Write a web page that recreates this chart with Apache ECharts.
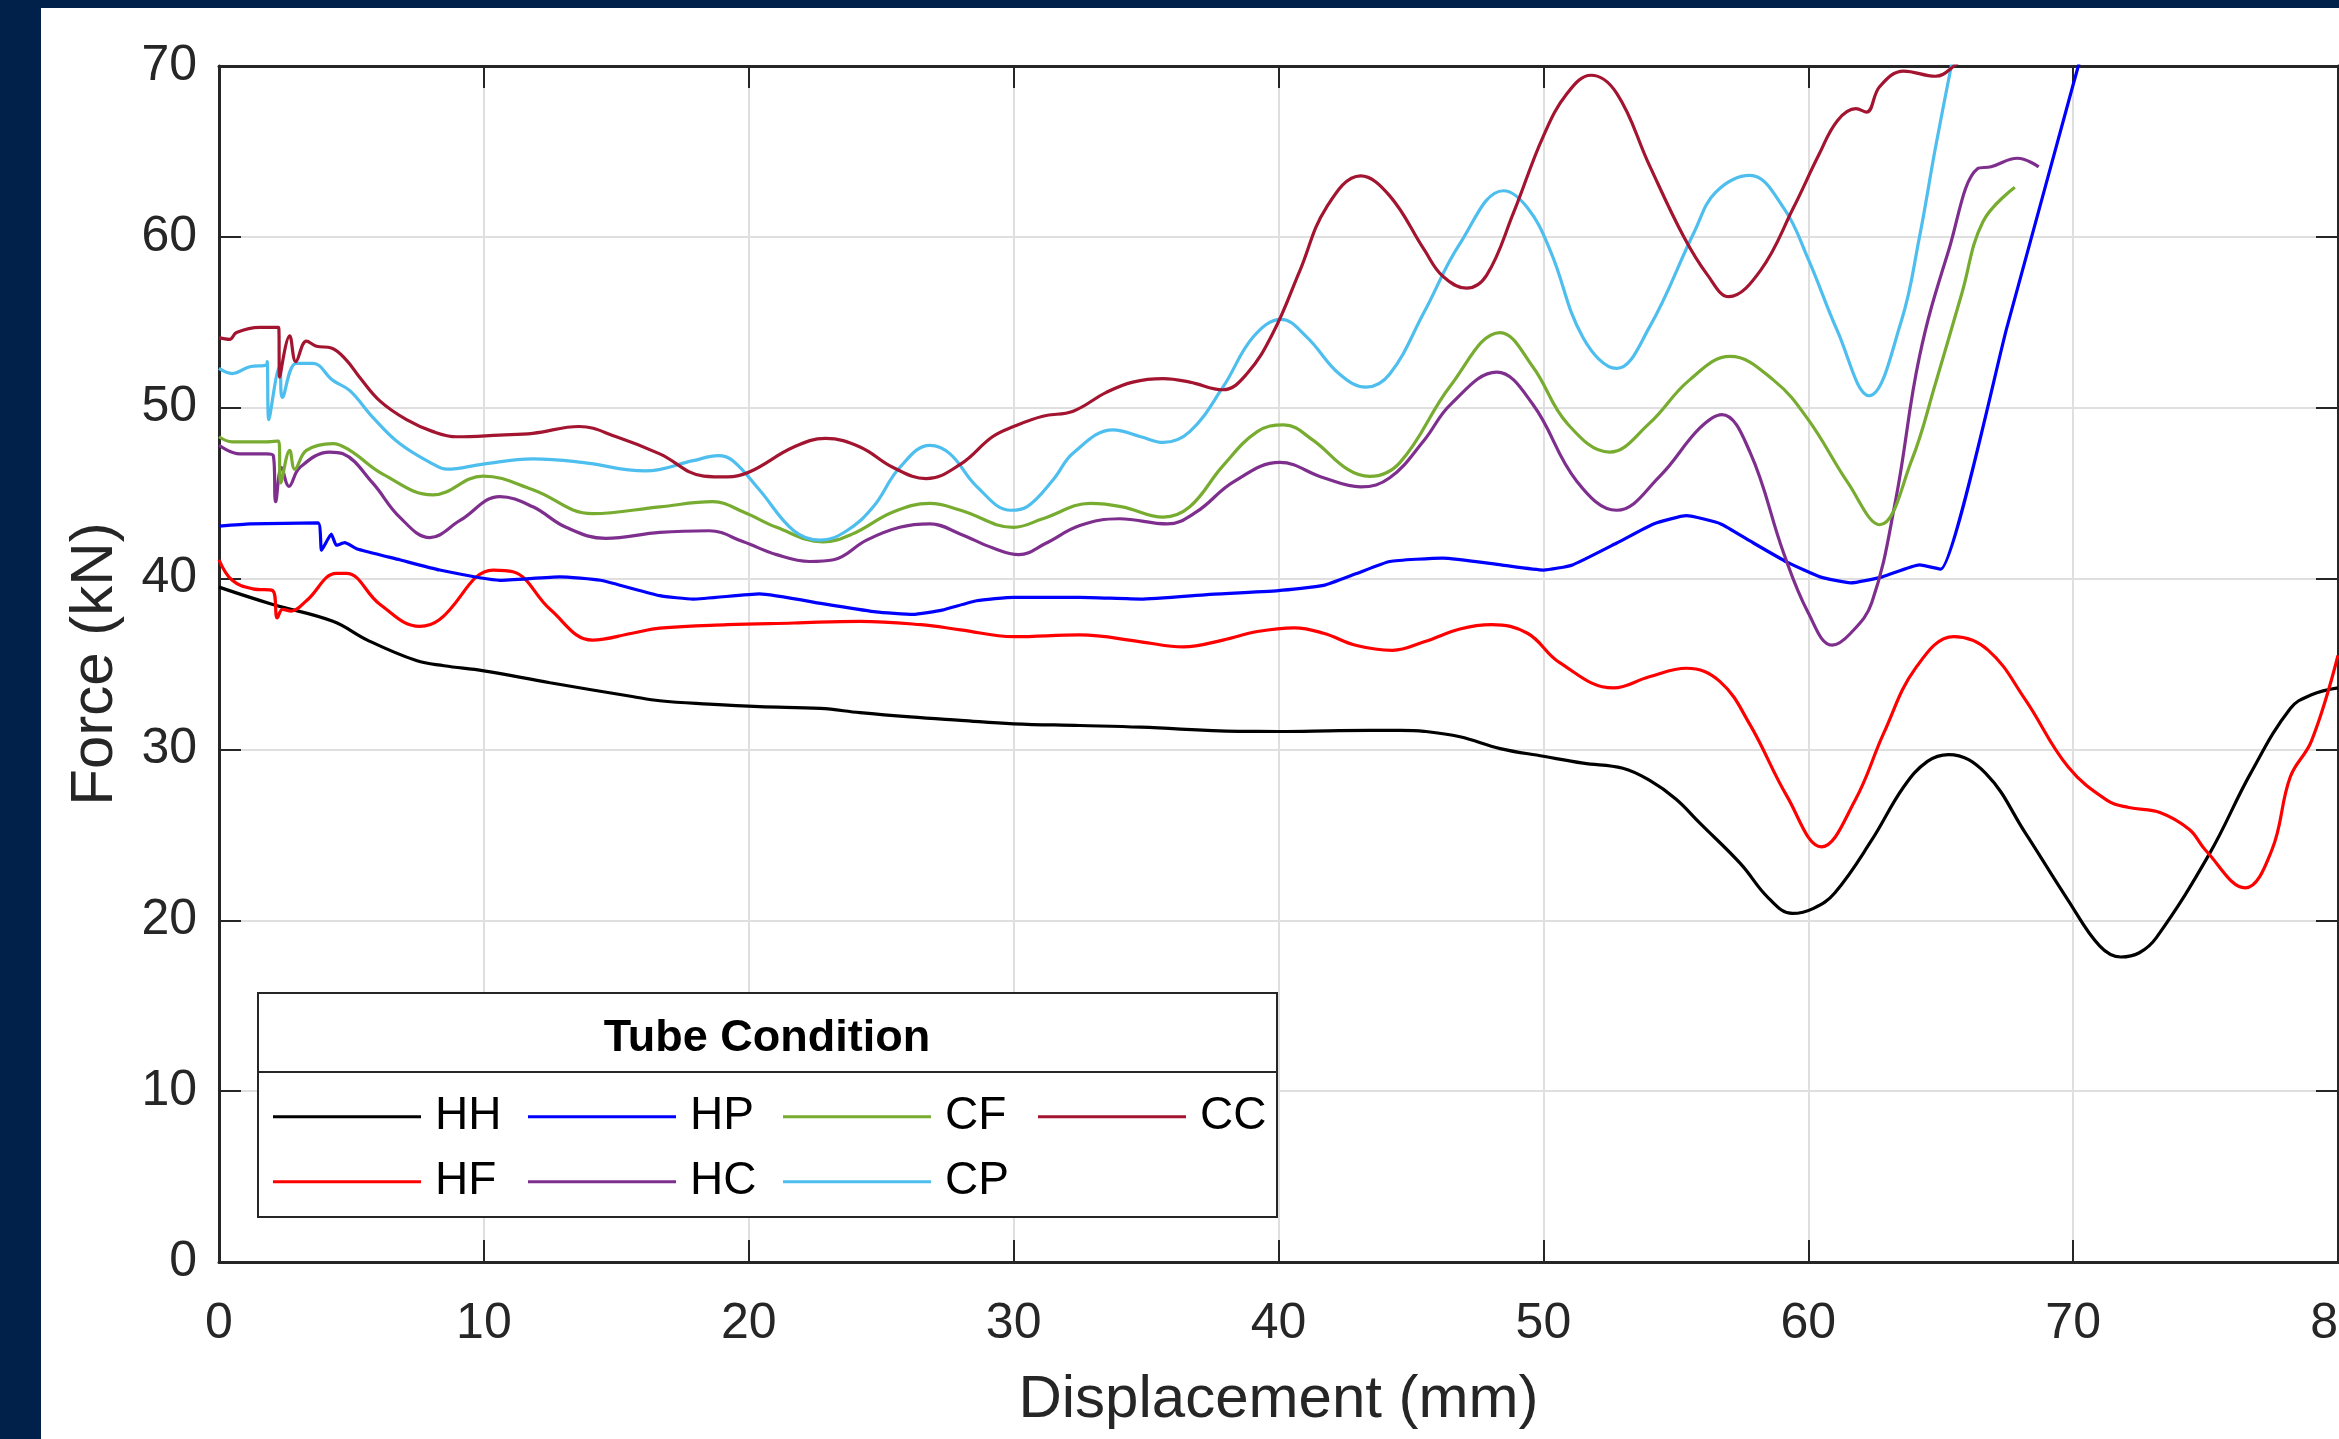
<!DOCTYPE html>
<title>tube condition force</title>
<style>
body {margin: 0; background: #01204a;}
#echart {position: absolute; left: 41px; top: 8px; width: 2298px; height: 1431px; background: #fff;}
</style>
<div id='echart'></div>
<script src='https://cdn.jsdelivr.net/npm/echarts@6.0.0/dist/echarts.min.js'></script>
<script>
// force (kN) vs displacement (mm), one array per tube condition
let hh = [[0,39.5],[2,38.5],[4.3,37.5],[5.6,36.4],[7.45,35.2],[8.5,34.9],[10,34.6],[12.5,33.9],[15.6,33.1],[16.64,32.85],[18.5,32.65],[20.4,32.5],[22.7,32.4],[24.2,32.15],[26.1,31.9],[28,31.7],[30,31.5],[32.5,31.4],[34.8,31.3],[38.5,31.06],[40,31.05],[42.3,31.1],[44.6,31.12],[45.5,31.06],[46.85,30.74],[48.37,30.05],[50,29.6],[51.5,29.2],[53,28.9],[54,28.2],[55,27.1],[55.9,25.7],[57.45,23.3],[58.5,21.3],[59.4,20.4],[60.2,20.7],[61,21.6],[62.4,24.7],[63.6,27.8],[64.5,29.3],[65.3,29.7],[66.7,28.6],[68.2,25.1],[69.8,21.2],[71,18.5],[71.8,17.85],[72.5,18.1],[73.15,19.0],[75.15,23.9],[76.7,28.6],[78.2,32.4],[79,33.2],[80,33.6]]
let hf = [[0,41.1],[0.5,39.9],[1.28,39.4],[2.02,39.3],[2.2,37.7],[2.4,38.2],[2.73,38.1],[3.3,38.7],[4.43,40.3],[4.81,40.3],[6.07,38.5],[7.58,37.2],[8.33,37.6],[10.35,40.5],[11.1,40.4],[12.5,38.2],[14.1,36.4],[15.6,36.8],[16.64,37.1],[19.2,37.3],[21.7,37.4],[24.2,37.5],[26.5,37.3],[28,37.0],[30,36.6],[32.5,36.7],[34.8,36.3],[36.4,36.0],[37.9,36.4],[39.2,36.9],[40.6,37.12],[41.7,36.8],[42.95,36.08],[44.3,35.8],[45.5,36.3],[46.85,37.05],[48.05,37.3],[49.4,36.8],[50.6,35.1],[52.65,33.6],[54,34.25],[55.4,34.75],[56.67,33.97],[57.8,31.45],[59.2,27.25],[60.5,24.3],[61.76,27.0],[62.85,30.95],[64.07,34.8],[65.5,36.6],[66.8,35.8],[68.2,32.9],[69.8,29.0],[71.3,27.0],[72.1,26.6],[73.3,26.3],[74.4,25.3],[75,24.1],[76.5,21.9],[77.5,24.1],[78.2,28.4],[79,30.5],[80,35.5]]
let hp = [[0,43.07],[1.16,43.2],[3.74,43.26],[3.87,41.66],[4.24,42.6],[4.43,41.95],[4.75,42.1],[5.19,41.75],[6.82,41.1],[8.33,40.5],[10.6,39.9],[12.87,40.1],[14.4,39.9],[16.64,39.0],[17.9,38.8],[20.4,39.1],[22.9,38.5],[24.8,38.05],[26.2,37.9],[27.3,38.15],[28.6,38.7],[30,38.9],[32.5,38.9],[34.8,38.8],[37.3,39.06],[40,39.3],[41.7,39.6],[42.95,40.3],[44.2,41.0],[46.2,41.2],[48.4,40.8],[50,40.5],[51.1,40.8],[52.77,42.08],[54.16,43.2],[55.4,43.68],[56.7,43.2],[57.8,42.2],[59.2,40.96],[60.45,40.1],[61.6,39.75],[62.8,40.1],[64.2,40.8],[65.0,40.55],[67.5,54.7],[70.0,68.9],[70.5,71.7]]
let hc = [[0,47.8],[0.78,47.3],[1.79,47.3],[2.05,47.2],[2.14,44.5],[2.36,46.5],[2.64,45.4],[3.05,46.5],[4.18,47.4],[4.68,47.3],[5.8,45.6],[6.82,43.6],[7.96,42.4],[9.1,43.4],[10.6,44.8],[11.85,44.2],[13.1,43.0],[14.6,42.35],[16.64,42.7],[18.5,42.8],[19.8,42.15],[21.05,41.4],[22.3,41.0],[23.2,41.1],[24.45,42.25],[25.7,43.0],[26.84,43.2],[28,42.6],[29.2,41.8],[30.2,41.4],[31.2,42.05],[32.5,43.1],[34,43.5],[35.8,43.2],[36.9,43.9],[38.3,45.66],[40.05,46.8],[41.7,45.9],[43.1,45.37],[44.2,45.9],[45.5,48.1],[46.5,50.2],[48.24,52.08],[49.6,50.2],[51.26,45.7],[52.77,44.0],[54.4,46.0],[55.9,48.8],[56.74,49.6],[57.8,47.4],[59.07,41.5],[60.0,38.0],[60.9,36.1],[61.6,36.8],[62.4,38.6],[63.3,44.6],[64.2,53.0],[65.3,59.2],[66.4,64.0],[66.9,64.1],[67.9,64.6],[68.7,64.1]]
let cf = [[0,48.3],[0.5,48.0],[1.79,48.0],[2.25,48.05],[2.33,45.6],[2.67,47.5],[2.86,46.4],[3.3,47.5],[4.3,47.9],[4.94,47.5],[6.2,46.1],[8.07,44.9],[9.97,46.0],[11.85,45.2],[14.1,43.8],[16.64,44.2],[18.65,44.5],[19.8,43.9],[21.05,43.0],[22.8,42.15],[23.9,42.6],[25.45,43.9],[26.84,44.4],[28,44.0],[30,43.0],[31.1,43.5],[32.9,44.4],[34.1,44.2],[35.65,43.6],[36.65,44.2],[37.9,46.6],[39.2,48.6],[40.2,49.0],[41.3,48.1],[42.6,46.4],[43.45,45.98],[44.59,46.8],[46.5,51.3],[48.37,54.4],[49.6,52.4],[50.9,49.08],[52.5,47.4],[54,49.08],[55.5,51.6],[57.05,53.0],[58.7,51.6],[60,49.3],[61.5,45.6],[62.7,43.15],[63.9,46.9],[64.8,51.4],[65.8,56.7],[66.6,60.9],[67.8,62.9]]
let cp = [[0,52.3],[0.5,52.0],[1.16,52.4],[1.79,52.5],[1.82,52.7],[1.88,49.3],[2.29,52.4],[2.39,50.6],[2.92,52.6],[3.54,52.6],[4.3,51.6],[4.94,51.0],[5.8,49.45],[6.82,47.9],[8.08,46.7],[8.6,46.4],[9.97,46.7],[11.85,47.0],[13.7,46.8],[16.1,46.3],[17.9,46.9],[18.85,47.2],[19.4,46.9],[20.4,45.2],[21.7,42.8],[22.7,42.25],[23.7,42.8],[24.7,44.2],[25.7,46.5],[26.84,47.8],[27.6,47.3],[28.6,45.4],[29.9,44.0],[30.5,44.2],[31.5,45.8],[32.25,47.35],[33.76,48.7],[34.8,48.3],[35.65,47.97],[36.65,48.6],[37.9,51.2],[39.05,54.15],[40.1,55.17],[41.06,54.15],[42.3,51.97],[43.3,51.2],[44.2,51.97],[45.5,55.6],[46.85,59.6],[48.5,62.7],[49.4,61.7],[50.26,59.2],[51.5,54.1],[52.77,52.3],[54,54.7],[55.7,60.3],[56.5,62.6],[57.8,63.6],[59.07,61.7],[60,58.7],[61.1,54.5],[62.3,50.7],[63.5,55.0],[64.2,60.0],[64.8,65.2],[65.4,70],[65.6,71.6]]
let cc = [[0,54.1],[0.4,54.0],[0.66,54.4],[1.54,54.7],[2.25,54.7],[2.29,51.8],[2.67,54.2],[2.9,52.7],[3.3,53.9],[3.68,53.6],[4.24,53.5],[4.8,52.8],[5.3,51.8],[6.07,50.4],[7.08,49.3],[8.08,48.6],[8.97,48.3],[10.6,48.4],[11.85,48.5],[13.6,48.9],[15,48.3],[16.64,47.3],[18.3,46.0],[19.2,45.95],[20.04,46.25],[21.7,47.7],[22.9,48.2],[24.2,47.7],[25.45,46.5],[26.7,45.85],[28,46.7],[29.2,48.3],[30,48.9],[31.1,49.5],[32.25,49.8],[33.5,50.9],[34.5,51.5],[35.65,51.7],[36.65,51.5],[37.9,51.05],[38.8,51.97],[39.8,54.4],[40.8,58.0],[41.8,61.7],[43.1,63.57],[44.2,62.4],[45.5,59.25],[46.2,57.7],[47.1,57.0],[47.86,57.76],[48.87,61.4],[50,65.9],[50.9,68.4],[51.8,69.46],[52.77,68.4],[54,64.2],[55.3,60.0],[56.2,57.76],[57,56.5],[58.2,58.04],[59.44,61.7],[60.4,64.8],[61.1,66.8],[61.8,67.5],[62.2,67.3],[62.7,68.8],[63.6,69.7],[64.8,69.4],[65.5,70.0],[66,70.8]]

let names = ['HH', 'HF', 'HP', 'HC', 'CF', 'CP', 'CC']
let colors = ['#000000', '#ff0000', '#0000ff', '#7e2f8e', '#77ac30', '#4dbeee', '#a2142f']
let curves = [hh, hf, hp, hc, cf, cp, cc]
// HP ends in a straight ramp, so it gets less smoothing
let smoothing = [0.4, 0.4, 0.15, 0.4, 0.4, 0.4, 0.4]
let legend_rows = [['HH', 'HP', 'CF', 'CC'], ['HF', 'HC', 'CP']]

let font = "'Liberation Sans', Arial, sans-serif"
let ink = '#262626'

let frame = {
	type: 'value',
	axisLine: {show: true, onZero: false, lineStyle: {color: ink, width: 3}},
	axisTick: {show: true, inside: true, length: 22, lineStyle: {color: ink, width: 2}},
	splitLine: {show: false},
}
let label = {fontSize: 50, color: ink, fontFamily: font}
let grid_line = {show: true, lineStyle: {color: '#dfdfdf', width: 2}}
let name_style = {fontSize: 60, color: ink, fontFamily: font}

let echart = echarts.init(document.querySelector('#echart'))
let option = {
	animation: false,
	textStyle: {fontFamily: font},
	grid: {left: 178, right: 1, top: 58, bottom: 177, containLabel: false, outerBoundsMode: 'none'},
	xAxis: [
		{...frame, min: 0, max: 80, interval: 10, position: 'bottom', axisLabel: {...label, margin: 19}, splitLine: grid_line,
			name: 'Displacement (mm)', nameLocation: 'middle', nameGap: 87, nameMoveOverlap: false, nameTextStyle: name_style},
		{...frame, min: 0, max: 80, interval: 10, position: 'top', axisLabel: {show: false}},
	],
	yAxis: [
		{...frame, min: 0, max: 70, interval: 10, position: 'left', axisLabel: {...label, margin: 22}, splitLine: grid_line,
			name: 'Force (kN)', nameLocation: 'middle', nameGap: 72, nameMoveOverlap: false, nameTextStyle: name_style},
		{...frame, min: 0, max: 70, interval: 10, position: 'right', axisLabel: {show: false}},
	],
	series: curves.map((data, i) => ({
		type: 'line', name: names[i], data: data, symbol: 'none', smooth: smoothing[i],
		lineStyle: {width: 3.2, color: colors[i]}, itemStyle: {color: colors[i]}, z: 2,
	})),
	legend: legend_rows.map((row, r) => ({
		data: row, left: 232, top: 1069 + r * 65, padding: 0, z: 200, orient: 'horizontal',
		icon: 'rect', itemWidth: 148, itemHeight: 3, itemGap: 15,
		textStyle: {fontSize: 46, color: '#000', width: 78, lineHeight: 50, padding: [0, 0, 0, 9], fontFamily: font},
	})),
	graphic: [
		{type: 'rect', z: 150, shape: {x: 217, y: 985, width: 1019, height: 224}, style: {fill: '#fff', stroke: ink, lineWidth: 2}},
		{type: 'line', z: 151, shape: {x1: 217, y1: 1064, x2: 1236, y2: 1064}, style: {stroke: ink, lineWidth: 2}},
		{type: 'text', z: 151, x: 726, y: 1031, style: {text: 'Tube Condition', font: "bold 45px 'Liberation Sans', Arial, sans-serif", fill: '#000', align: 'center', verticalAlign: 'middle'}},
	],
}

echart.setOption(option)
addEventListener('resize', function (event) {echart.resize()})
</script>
